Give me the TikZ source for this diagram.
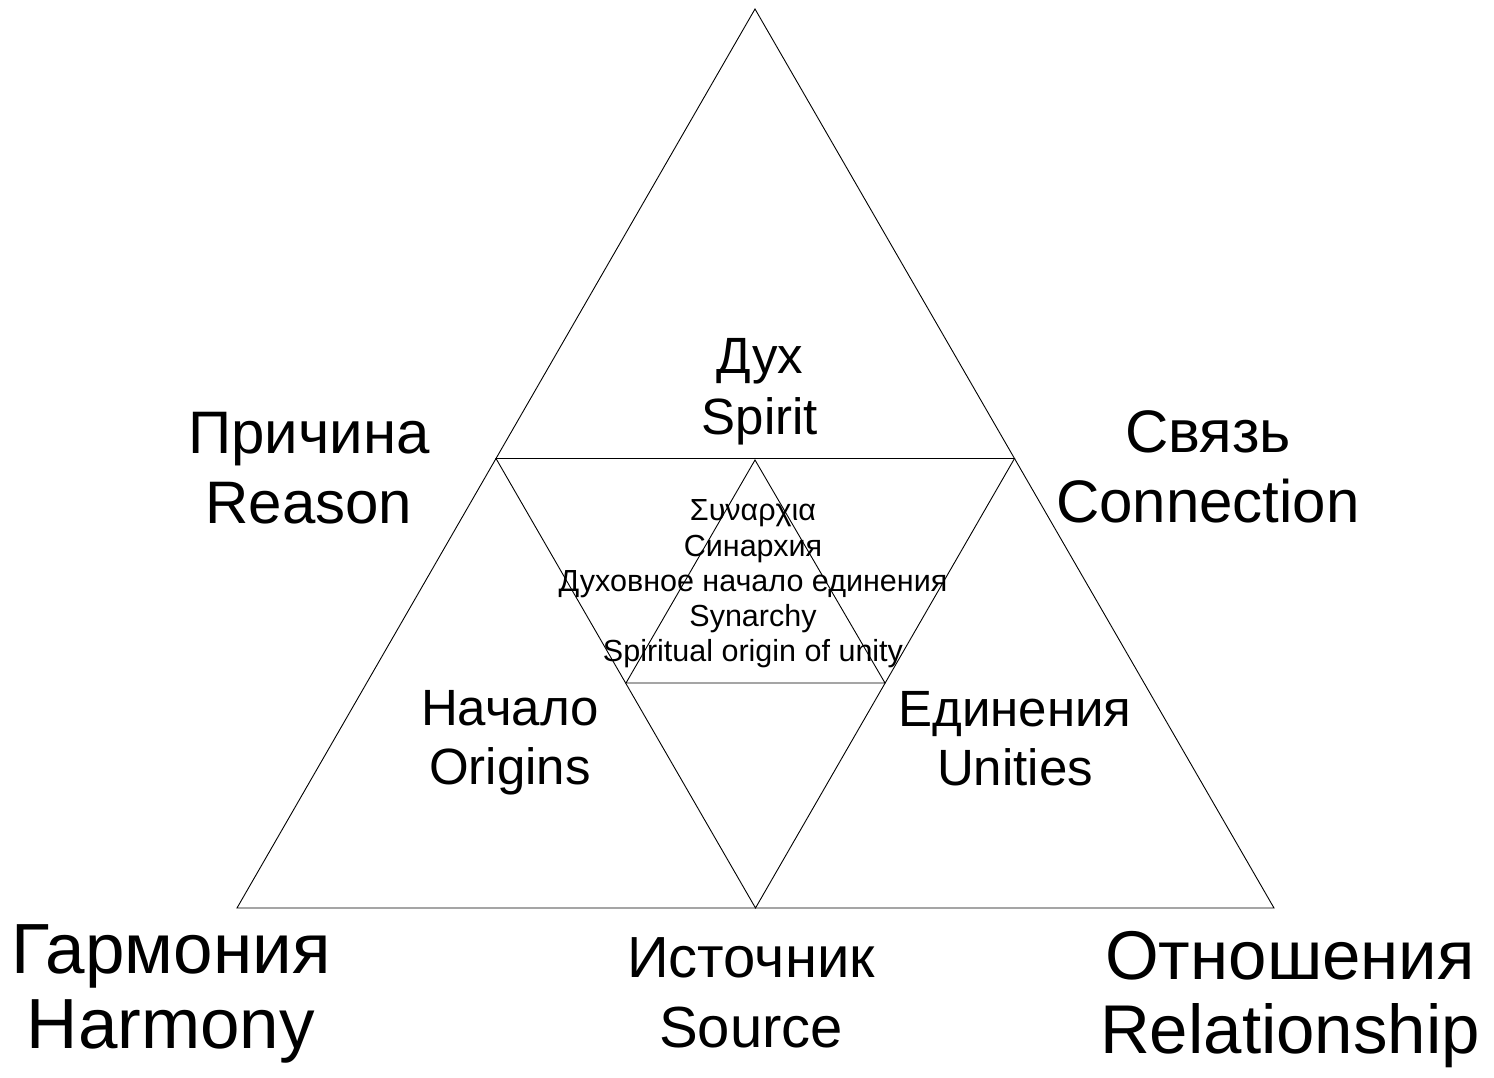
\documentclass[tikz,border=0pt]{standalone}
\usepackage{fontspec}
\setmainfont{Liberation Sans}
\begin{document}
\begin{tikzpicture}[x=1pt,y=-1pt,
  edge/.style={draw=black,line width=0.9pt,line join=miter},
  lbl/.style={align=center,inner sep=0pt,text=black},
  huge/.style={lbl,font=\fontsize{71}{75}\selectfont},
  big/.style={lbl,font=\fontsize{60}{70}\selectfont},
  mid/.style={lbl,font=\fontsize{51}{59}\selectfont},
  small/.style={lbl,font=\fontsize{30.5}{35.2}\selectfont}]
\useasboundingbox (0,0) rectangle (1494,1078);
% outer triangle
\coordinate (A) at (755,9);
\coordinate (BL) at (237,908);
\coordinate (BR) at (1274,908);
% inner inverted triangle
\coordinate (L) at (496,458.5);
\coordinate (R) at (1014.5,458.5);
\coordinate (B) at (755.5,908);
% central triangle
\coordinate (M1) at (755,460);
\coordinate (M2) at (626,683);
\coordinate (M3) at (885,683);
\draw[edge] (A) -- (BL) -- (BR) -- cycle;
\draw[edge] (L) -- (R) -- (B) -- cycle;
\draw[edge] (M1) -- (M2) -- (M3) -- cycle;
% labels
\node[lbl,font=\fontsize{51}{61}\selectfont] (spirit) at (760,392) {Дух\\Spirit};
\node[big] (reason) at (309,468) {Причина\\Reason};
\node[big] (connection) at (1208,467) {Связь\\Connection};
\node[mid] (origins) at (510,743) {Начало\\Origins};
\node[mid] (unities) at (1015,739) {Единения\\Unities};
\node[small] (synarchy) at (753,584) {Συναρχια\\Синархия\\Духовное начало единения\\Synarchy\\Spiritual origin of unity};
\node[huge] (harmony) at (171,994) {Гармония\\Harmony};
\node[lbl,font=\fontsize{58}{70}\selectfont] (source) at (751,993) {Источник\\Source};
\node[lbl,font=\fontsize{69}{74}\selectfont] (relation) at (1290,1000) {Отношения\\Relationship};
\end{tikzpicture}
\end{document}
